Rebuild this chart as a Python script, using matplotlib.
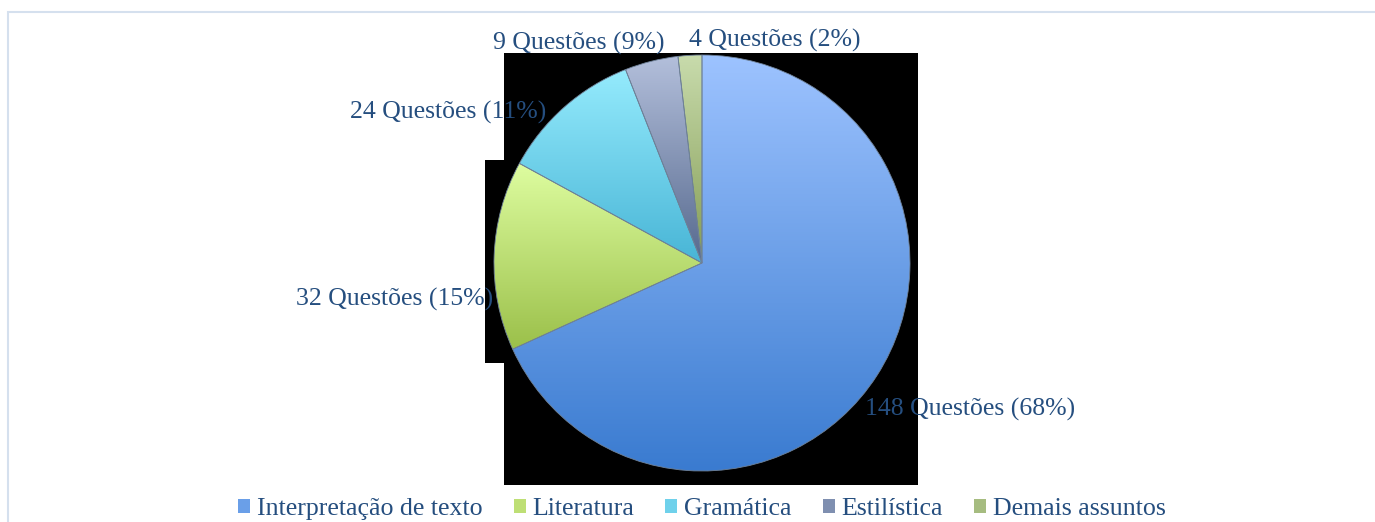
import numpy as np
import matplotlib
matplotlib.use('Agg')
import matplotlib.pyplot as plt
from matplotlib.patches import Rectangle, Patch
from matplotlib.colors import LinearSegmentedColormap

## data
categories = ['Interpretação de texto', 'Literatura', 'Gramática', 'Estilística', 'Demais assuntos']
questions = [148, 32, 24, 9, 4]
pct_labels = ['68%', '15%', '11%', '9%', '2%']   # as printed on the chart

# gradient colours per slice (top, bottom)
grad_top = ['#9DC3FF', '#DEFDA0', '#95EBFD', '#B3BFDB', '#C8DBAC']
grad_bot = ['#3A7BD0', '#9BC04A', '#48B5D6', '#56698E', '#849C55']
legend_cols = ['#6A9FE8', '#BEDF75', '#6FD1EB', '#7F8FB0', '#A6BC80']
text_col = '#254E7F'

W, H = 1375, 522
fig = plt.figure(figsize=(W / 100, H / 100), dpi=100)

def fx(x): return x / W
def fy(y): return 1 - y / H

# light frame around chart area
fig.patches.append(Rectangle((fx(8), fy(560)), fx(1400), 548 / H, transform=fig.transFigure,
                             facecolor='white', edgecolor='#D5E0EE', linewidth=1.5, zorder=0))

# black background blocks behind the pie (rendering artefact in the original)
fig.patches.append(Rectangle((fx(504), fy(485)), fx(918 - 504), (485 - 53) / H,
                             transform=fig.transFigure, facecolor='black', zorder=1))
fig.patches.append(Rectangle((fx(485), fy(363)), fx(504 - 485), (363 - 160) / H,
                             transform=fig.transFigure, facecolor='black', zorder=1))

# pie axes
cx, cy, r = 702, 263, 208
ax = fig.add_axes([fx(cx - r), fy(cy + r), 2 * r / W, 2 * r / H])
ax.set_zorder(2)
ax.patch.set_visible(False)
wedges, _ = ax.pie(questions, startangle=90, counterclock=False,
                   wedgeprops=dict(edgecolor='#6F8299', linewidth=0.6))

for i, w in enumerate(wedges):
    ext = w.get_path().get_extents()
    cmap = LinearSegmentedColormap.from_list('g%d' % i, [grad_bot[i], grad_top[i]])
    grad = np.linspace(0, 1, 256).reshape(-1, 1)
    im = ax.imshow(grad, cmap=cmap, origin='lower', aspect='auto',
                   extent=[ext.x0, ext.x1, ext.y0, ext.y1], zorder=0.5)
    im.set_clip_path(w)
    w.set_facecolor('none')
    w.set_zorder(1)

ax.set_xlim(-1.0, 1.0)
ax.set_ylim(-1.0, 1.0)
ax.set_aspect('equal')
ax.axis('off')

# data labels
label_pos = [(865, 409), (296, 299), (350, 112), (493, 43), (689, 40)]
fnt = 'Liberation Serif'
for (x, y), n, p in zip(label_pos, questions, pct_labels):
    fig.text(fx(x), fy(y), '%d Questões (%s)' % (n, p), ha='left', va='center',
             fontsize=18.5, color=text_col, family=fnt, zorder=5)

# legend
handles = [Patch(facecolor=c, edgecolor='none') for c in legend_cols]
leg = fig.legend(handles, categories, loc='center', bbox_to_anchor=(fx(702), fy(509)),
                 ncol=5, frameon=False, handlelength=0.46, handleheight=0.46,
                 handletextpad=0.27, columnspacing=1.2, prop=dict(family=fnt, size=18.6))
for t in leg.get_texts():
    t.set_color(text_col)

plt.savefig('out.png', dpi=100)
